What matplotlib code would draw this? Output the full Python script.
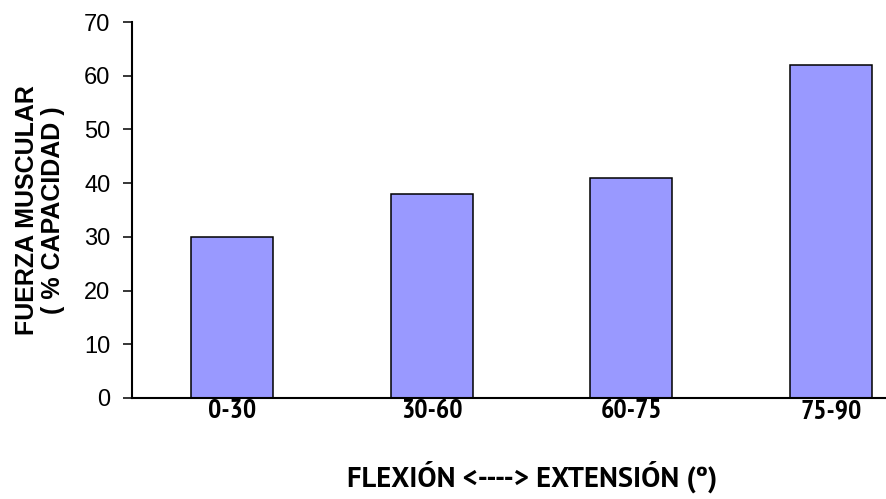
import matplotlib
matplotlib.use('Agg')
import matplotlib.pyplot as plt

# datos del grafico
categories = ['0-30', '30-60', '60-75', '75-90']
values = [30, 38, 41, 62]
y_ticks = [0, 10, 20, 30, 40, 50, 60, 70]

plt.rcParams['font.family'] = ['Liberation Sans', 'DejaVu Sans']
narrow = ['PT Sans Narrow', 'Liberation Sans', 'DejaVu Sans']

fig = plt.figure(figsize=(8.87, 4.99), dpi=100)
# el eje sigue fuera de la imagen por la derecha, como en el original
ax = fig.add_axes([132 / 887, 101 / 499, 799 / 887, 376 / 499])

x = range(len(categories))
ax.bar(x, values, width=0.41, color='#9999FF', edgecolor='black', linewidth=1.1)

ax.set_xlim(-0.5, len(categories) - 0.5)
ax.set_ylim(0, 70)
ax.set_yticks(y_ticks)
ax.set_yticklabels([str(t) for t in y_ticks], fontsize=17)
ax.set_xticks(list(x))
ax.set_xticklabels(categories, fontsize=20, fontweight='bold', family=narrow)
ax.tick_params(axis='y', direction='out', length=6.5, width=1.1, pad=9)
ax.tick_params(axis='x', length=0, pad=1)

for s in ['top', 'right']:
    ax.spines[s].set_visible(False)
for s in ['left', 'bottom']:
    ax.spines[s].set_linewidth(1.5)

fig.text(40 / 887, 1 - 210 / 499, 'FUERZA MUSCULAR\n( % CAPACIDAD )', rotation=90,
         ha='center', va='center', fontsize=18, fontweight='bold', linespacing=1.1)
fig.text(532 / 887, 1 - 487 / 499, 'FLEXIÓN <----> EXTENSIÓN (º)', ha='center', va='baseline',
         fontsize=20.5, fontweight='bold', family=['PT Sans', 'Liberation Sans', 'DejaVu Sans'])

fig.savefig('out.png', dpi=100)
